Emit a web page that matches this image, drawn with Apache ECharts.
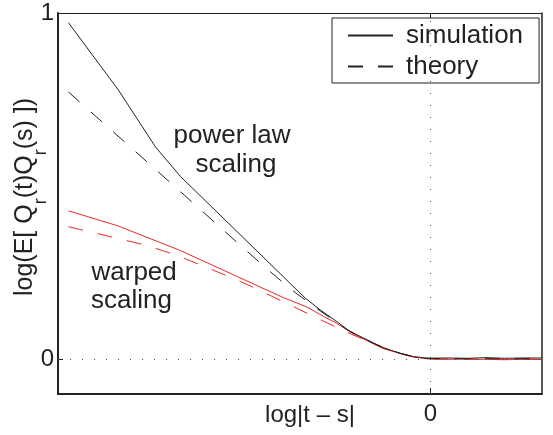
<!DOCTYPE html>
<html>
<head>
<meta charset="utf-8">
<script src="https://cdn.jsdelivr.net/npm/echarts@6/dist/echarts.min.js"></script>
<style>html,body{margin:0;padding:0;background:#fff}#c{width:553px;height:435px}</style>
</head>
<body>
<div id="c"></div>
<script>
// ---- data ----
var simPowerX = [-9.72, -8.38, -7.38, -6.71, -3.36, -2.96, -2.51, -2.15, -1.80, -1.26, -0.81, -0.45, -0.09, 0.5, 1.0, 1.5, 2.0, 2.5, 3.0];
var simPowerY = [0.972, 0.778, 0.613, 0.528, 0.177, 0.143, 0.109, 0.080, 0.062, 0.033, 0.018, 0.008, 0.0035, 0.004, 0.003, 0.005, 0.003, 0.004, 0.004];

var thPowerX = [-9.72, -7.0, -5.10, -4.30, -3.63, -2.96, -2.24, -1.50, -0.81, -0.45, 0.0, 1.0, 2.0, 3.0];
var thPowerY = [0.772, 0.512, 0.329, 0.253, 0.193, 0.140, 0.086, 0.045, 0.017, 0.007, 0.002, 0.002, 0.002, 0.002];

var simWarpX = [-9.72, -8.38, -6.71, -3.94, -3.31, -2.87, -2.51, -2.15, -1.80, -1.26, -0.81, -0.45, -0.09, 0.5, 1.0, 1.5, 2.0, 2.5, 3.0];
var simWarpY = [0.429, 0.385, 0.314, 0.178, 0.151, 0.124, 0.104, 0.079, 0.059, 0.031, 0.017, 0.007, 0.0015, 0.0, 0.001, 0.0, -0.001, 0.0, 0.0];

var thWarpX = [-9.72, -8.51, -7.65, -6.85, -6.04, -5.24, -4.835, -3.673, -2.884, -2.125, -1.39, -0.81, -0.45, 0.0, 1.0, 2.0, 3.0];
var thWarpY = [0.383, 0.352, 0.330, 0.302, 0.267, 0.231, 0.212, 0.152, 0.111, 0.073, 0.039, 0.017, 0.007, 0.001, 0.0, 0.0, 0.0];

var xTicks = [0];
var yTicks = [0, 1];
var legendNames = ['simulation', 'theory'];

function zip(xs, ys) { return xs.map(function (x, i) { return [x, ys[i]]; }); }

var FONT = "'Liberation Sans', Arial, Helvetica, sans-serif";
var INK = '#222';
var RED = '#ea2a2a';

var chart = echarts.init(document.getElementById('c'), null, {renderer: 'canvas'});

var baseX = {type: 'value', min: -10, max: 3, splitLine: {show: false}};
var baseY = {type: 'value', min: -0.1, max: 1, splitLine: {show: false}};

chart.setOption({
  animation: false,
  backgroundColor: '#fff',
  grid: {left: 58, right: 11, top: 13, bottom: 41, containLabel: false},
  xAxis: [
    Object.assign({}, baseX, {
      position: 'bottom',
      axisLine: {onZero: false, lineStyle: {color: INK, width: 2}},
      axisTick: {show: true, inside: true, length: 6, customValues: xTicks, lineStyle: {color: INK, width: 1}},
      axisLabel: {customValues: xTicks, fontSize: 24, fontFamily: FONT, color: INK, margin: 8}
    }),
    Object.assign({}, baseX, {
      position: 'top',
      axisLine: {onZero: false, lineStyle: {color: INK, width: 1}},
      axisTick: {show: true, inside: true, length: 5, customValues: xTicks, lineStyle: {color: INK, width: 1}},
      axisLabel: {show: false}
    })
  ],
  yAxis: [
    Object.assign({}, baseY, {
      position: 'left',
      axisLine: {onZero: false, lineStyle: {color: INK, width: 2}},
      axisTick: {show: true, inside: true, length: 5, customValues: yTicks, lineStyle: {color: INK, width: 1}},
      axisLabel: {customValues: yTicks, fontSize: 24, fontFamily: FONT, color: INK, margin: 4}
    }),
    Object.assign({}, baseY, {
      position: 'right',
      axisLine: {onZero: false, lineStyle: {color: INK, width: 1.5}},
      axisTick: {show: true, inside: true, length: 5, customValues: yTicks, lineStyle: {color: INK, width: 1}},
      axisLabel: {show: false}
    })
  ],
  legend: {
    data: legendNames,
    orient: 'vertical',
    left: 332,
    top: 18,
    padding: [4, 16, 3, 15],
    itemWidth: 45,
    itemHeight: 10,
    itemGap: 4,
    selectedMode: false,
    backgroundColor: '#fff',
    borderColor: INK,
    borderWidth: 1,
    borderRadius: 0,
    itemStyle: {color: 'rgba(0,0,0,0)', borderWidth: 0, opacity: 0},
    textStyle: {fontSize: 26, fontFamily: FONT, color: INK, lineHeight: 27, padding: [0, 0, 0, 8]}
  },
  series: [
    {
      name: 'simulation', type: 'line', data: zip(simPowerX, simPowerY),
      symbol: 'none', showSymbol: false, z: 5,
      lineStyle: {color: INK, width: 1}, itemStyle: {color: INK},
      markLine: {
        silent: true, symbol: ['none', 'none'], label: {show: false},
        lineStyle: {color: '#555', width: 1, type: [1, 11]},
        data: [{xAxis: 0}, {yAxis: 0}]
      }
    },
    {
      name: 'theory', type: 'line', data: zip(thPowerX, thPowerY),
      symbol: 'none', showSymbol: false, z: 5,
      lineStyle: {color: INK, width: 1, type: [15, 15]}, itemStyle: {color: INK}
    },
    {
      name: 'simulation (warped)', type: 'line', data: zip(simWarpX, simWarpY),
      symbol: 'none', showSymbol: false, z: 4,
      lineStyle: {color: RED, width: 1}, itemStyle: {color: RED}
    },
    {
      name: 'theory (warped)', type: 'line', data: zip(thWarpX, thWarpY),
      symbol: 'none', showSymbol: false, z: 4,
      lineStyle: {color: RED, width: 1, type: [15, 15]}, itemStyle: {color: RED}
    }
  ],
  graphic: [
    {type: 'text', x: 173.5, y: 136, style: {text: 'power law', font: "26px " + FONT, fill: INK, align: 'left', verticalAlign: 'middle'}},
    {type: 'text', x: 195.5, y: 164.5, style: {text: 'scaling', font: "26px " + FONT, fill: INK, align: 'left', verticalAlign: 'middle'}},
    {type: 'text', x: 91.5, y: 272.7, style: {text: 'warped', font: "26px " + FONT, fill: INK, align: 'left', verticalAlign: 'middle'}},
    {type: 'text', x: 91, y: 300.7, style: {text: 'scaling', font: "26px " + FONT, fill: INK, align: 'left', verticalAlign: 'middle'}},
    {type: 'text', x: 310, y: 415, style: {text: 'log|t \u2013 s|', font: "24px " + FONT, fill: INK, align: 'center', verticalAlign: 'middle'}},
    {
      type: 'text', x: 25, y: 197, rotation: Math.PI / 2,
      style: {
        text: '{n|log(E[ Q}{s|r}{n|(t)Q}{s|r}{n|(s) ])}',
        align: 'center', verticalAlign: 'middle', fill: INK,
        rich: {
          n: {fontSize: 25, fontFamily: FONT, lineHeight: 50, fill: INK},
          s: {fontSize: 18, fontFamily: FONT, lineHeight: 16, verticalAlign: 'bottom', fill: INK}
        }
      }
    }
  ]
});
</script>
</body>
</html>
